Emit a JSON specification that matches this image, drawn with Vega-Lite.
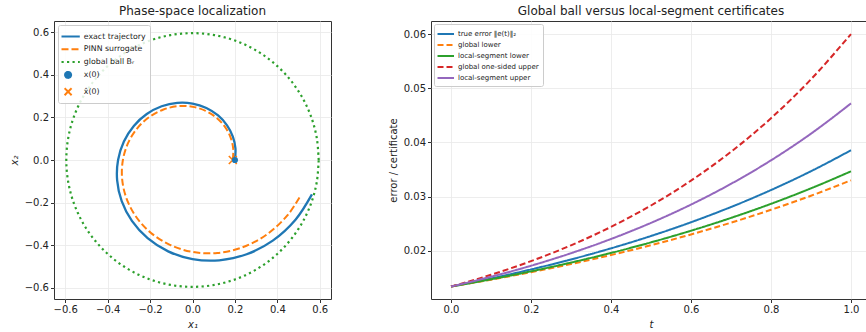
{
  "$schema": "https://vega.github.io/schema/vega-lite/v6.json",
  "padding": {"top": 4, "left": 8, "right": 0, "bottom": 0},
  "spacing": 55,
  "config": {
    "font": "DejaVu Sans",
    "view": {"stroke": "#333", "strokeWidth": 1},
    "axis": {"grid": true, "gridColor": "#e8e8e8", "gridWidth": 0.8, "domain": false, "tickColor": "#333", "tickSize": 3.5, "labelFontSize": 10, "labelColor": "#222", "titleFontSize": 10, "titleFontWeight": "normal", "titleColor": "#222", "labelPadding": 2, "titlePadding": 3, "labelFlush": false},
    "axisX": {"titlePadding": 5},
    "title": {"fontSize": 12, "fontWeight": "normal", "color": "#222", "offset": 3},
    "legend": {"title": null, "orient": "top-left", "offset": 4, "padding": 3.5, "strokeColor": "#cccccc", "fillColor": "rgba(255,255,255,0.85)", "cornerRadius": 2, "labelColor": "#222", "symbolStrokeWidth": 2}
  },
  "resolve": {
    "scale": {"x": "independent", "y": "independent", "color": "independent", "stroke": "independent", "fill": "independent", "shape": "independent", "strokeDash": "independent"},
    "legend": {"color": "independent", "stroke": "independent", "fill": "independent", "shape": "independent", "strokeDash": "independent"}
  },
  "hconcat": [
    {
      "width": 277,
      "height": 278,
      "title": "Phase-space localization",
      "encoding": {
        "x": {"field": "x", "type": "quantitative", "scale": {"domain": [-0.653, 0.653], "nice": false, "zero": false}, "axis": {"values": [-0.6, -0.4, -0.2, 0, 0.2, 0.4, 0.6], "format": ".1f", "title": "x₁", "titleFontStyle": "italic"}},
        "y": {"field": "y", "type": "quantitative", "scale": {"domain": [-0.652, 0.652], "nice": false, "zero": false}, "axis": {"values": [-0.6, -0.4, -0.2, 0, 0.2, 0.4, 0.6], "format": ".1f", "title": "x₂", "titleFontStyle": "italic", "titlePadding": 5}}
      },
      "layer": [
        {
          "data": {"values": [
            {"i": 0, "x": 0.2, "y": 0}, {"i": 1, "x": 0.20246, "y": 0.05425}, {"i": 2, "x": 0.19022, "y": 0.10983}, {"i": 3, "x": 0.16277, "y": 0.16277}, {"i": 4, "x": 0.12062, "y": 0.20891}, {"i": 5, "x": 0.06543, "y": 0.24419}, {"i": 6, "x": 0, "y": 0.26493}, {"i": 7, "x": -0.07186, "y": 0.26818}, {"i": 8, "x": -0.14548, "y": 0.25198}, {"i": 9, "x": -0.21561, "y": 0.21561}, {"i": 10, "x": -0.27674, "y": 0.15978}, {"i": 11, "x": -0.32347, "y": 0.08667}, {"i": 12, "x": -0.35094, "y": 0}, {"i": 13, "x": -0.35527, "y": -0.0952}, {"i": 14, "x": -0.33381, "y": -0.19273}, {"i": 15, "x": -0.28563, "y": -0.28563}, {"i": 16, "x": -0.21166, "y": -0.36661}, {"i": 17, "x": -0.11482, "y": -0.42851}, {"i": 18, "x": 0, "y": -0.46488}, {"i": 19, "x": 0.12609, "y": -0.47059}, {"i": 20, "x": 0.25529, "y": -0.44217}, {"i": 21, "x": 0.37835, "y": -0.37835}, {"i": 22, "x": 0.48559, "y": -0.28036}, {"i": 23, "x": 0.56312, "y": -0.16148}
          ]},
          "mark": {"type": "line", "interpolate": "catmull-rom", "strokeWidth": 2.3, "color": "#1f77b4"},
          "encoding": {"order": {"field": "i", "type": "quantitative"}}
        },
        {
          "data": {"values": [
            {"i": 0, "x": 0.19, "y": 0}, {"i": 1, "x": 0.19208, "y": 0.05147}, {"i": 2, "x": 0.18024, "y": 0.10406}, {"i": 3, "x": 0.15402, "y": 0.15402}, {"i": 4, "x": 0.11399, "y": 0.19744}, {"i": 5, "x": 0.06175, "y": 0.23047}, {"i": 6, "x": 0, "y": 0.24972}, {"i": 7, "x": -0.06765, "y": 0.25245}, {"i": 8, "x": -0.13677, "y": 0.23689}, {"i": 9, "x": -0.20244, "y": 0.20244}, {"i": 10, "x": -0.25949, "y": 0.14982}, {"i": 11, "x": -0.30291, "y": 0.08116}, {"i": 12, "x": -0.32821, "y": 0}, {"i": 13, "x": -0.3318, "y": -0.0889}, {"i": 14, "x": -0.31135, "y": -0.17976}, {"i": 15, "x": -0.26606, "y": -0.26606}, {"i": 16, "x": -0.1969, "y": -0.34104}, {"i": 17, "x": -0.10668, "y": -0.39811}, {"i": 18, "x": 0, "y": -0.43136}, {"i": 19, "x": 0.11685, "y": -0.43609}, {"i": 20, "x": 0.23626, "y": -0.40921}, {"i": 21, "x": 0.34969, "y": -0.34969}, {"i": 22, "x": 0.44826, "y": -0.2588}, {"i": 23, "x": 0.50964, "y": -0.16757}
          ]},
          "mark": {"type": "line", "interpolate": "catmull-rom", "strokeWidth": 2, "color": "#ff7f0e", "strokeDash": [7, 3]},
          "encoding": {"order": {"field": "i", "type": "quantitative"}}
        },
        {
          "data": {"values": [
            {"i": 0, "x": 0.595, "y": 0}, {"i": 1, "x": 0.58596, "y": 0.10329}, {"i": 2, "x": 0.55912, "y": 0.20349}, {"i": 3, "x": 0.51527, "y": 0.2975}, {"i": 4, "x": 0.45577, "y": 0.38247}, {"i": 5, "x": 0.38247, "y": 0.45577}, {"i": 6, "x": 0.2975, "y": 0.51527}, {"i": 7, "x": 0.20349, "y": 0.55912}, {"i": 8, "x": 0.10329, "y": 0.58596}, {"i": 9, "x": 0, "y": 0.595}, {"i": 10, "x": -0.10329, "y": 0.58596}, {"i": 11, "x": -0.20349, "y": 0.55912}, {"i": 12, "x": -0.2975, "y": 0.51527}, {"i": 13, "x": -0.38247, "y": 0.45577}, {"i": 14, "x": -0.45577, "y": 0.38247}, {"i": 15, "x": -0.51527, "y": 0.2975}, {"i": 16, "x": -0.55912, "y": 0.20349}, {"i": 17, "x": -0.58596, "y": 0.10329}, {"i": 18, "x": -0.595, "y": 0}, {"i": 19, "x": -0.58596, "y": -0.10329}, {"i": 20, "x": -0.55912, "y": -0.20349}, {"i": 21, "x": -0.51527, "y": -0.2975}, {"i": 22, "x": -0.45577, "y": -0.38247}, {"i": 23, "x": -0.38247, "y": -0.45577}, {"i": 24, "x": -0.2975, "y": -0.51527}, {"i": 25, "x": -0.20349, "y": -0.55912}, {"i": 26, "x": -0.10329, "y": -0.58596}, {"i": 27, "x": 0, "y": -0.595}, {"i": 28, "x": 0.10329, "y": -0.58596}, {"i": 29, "x": 0.20349, "y": -0.55912}, {"i": 30, "x": 0.2975, "y": -0.51527}, {"i": 31, "x": 0.38247, "y": -0.45577}, {"i": 32, "x": 0.45577, "y": -0.38247}, {"i": 33, "x": 0.51527, "y": -0.2975}, {"i": 34, "x": 0.55912, "y": -0.20349}, {"i": 35, "x": 0.58596, "y": -0.10329}, {"i": 36, "x": 0.595, "y": 0}
          ]},
          "mark": {"type": "line", "interpolate": "catmull-rom", "strokeWidth": 2.2, "color": "#2ca02c", "strokeDash": [2.2, 3.3]},
          "encoding": {"order": {"field": "i", "type": "quantitative"}}
        },
        {
          "data": {"values": [{"label": "x̂(0)", "x": 0.19, "y": 0}]},
          "mark": {"type": "point", "filled": false, "shape": "M-1,-1L1,1M-1,1L1,-1", "size": 64, "strokeWidth": 1.6, "color": "#ff7f0e", "opacity": 1},
          "encoding": {}
        },
        {
          "data": {"values": [{"label": "x(0)", "x": 0.2, "y": 0}]},
          "mark": {"type": "point", "filled": true, "shape": "circle", "size": 38, "color": "#1f77b4", "opacity": 1},
          "encoding": {}
        },
        {
          "data": {"values": []},
          "mark": {"type": "point", "filled": false, "size": 196, "strokeWidth": 2, "opacity": 1},
          "encoding": {
            "stroke": {"field": "series", "type": "nominal",
              "scale": {"domain": ["exact trajectory", "PINN surrogate", "global ball Bᵣ", "x(0)", "x̂(0)"], "range": ["#1f77b4", "#ff7f0e", "#2ca02c", "#1f77b4", "#ff7f0e"]},
              "legend": {"symbolSize": 196, "labelFontSize": 7.8, "rowPadding": 0.8, "labelOffset": 6.3, "symbolStrokeWidth": 2}},
            "fill": {"field": "series", "type": "nominal",
              "scale": {"domain": ["exact trajectory", "PINN surrogate", "global ball Bᵣ", "x(0)", "x̂(0)"], "range": ["transparent", "transparent", "transparent", "#1f77b4", "transparent"]},
              "legend": {"symbolSize": 196, "labelFontSize": 7.8, "rowPadding": 0.8, "labelOffset": 6.3, "symbolStrokeWidth": 2}},
            "shape": {"field": "series", "type": "nominal",
              "scale": {"domain": ["exact trajectory", "PINN surrogate", "global ball Bᵣ", "x(0)", "x̂(0)"], "range": ["M-1.143,0L1.471,0", "M-1.143,0L1.471,0", "M-1.143,0L1.471,0", "M0.23,0A0.43,0.43 0 1,1 -0.63,0A0.43,0.43 0 1,1 0.23,0Z", "M-0.7,-0.5L0.3,0.5M-0.7,0.5L0.3,-0.5"]},
              "legend": {"symbolSize": 196, "labelFontSize": 7.8, "rowPadding": 0.8, "labelOffset": 6.3, "symbolStrokeWidth": 2}},
            "strokeDash": {"field": "series", "type": "nominal",
              "scale": {"domain": ["exact trajectory", "PINN surrogate", "global ball Bᵣ", "x(0)", "x̂(0)"], "range": [[1, 0], [7, 3], [2.2, 3.3], [1, 0], [1, 0]]},
              "legend": {"symbolSize": 196, "labelFontSize": 7.8, "rowPadding": 0.8, "labelOffset": 6.3, "symbolStrokeWidth": 2}}
          }
        }
      ]
    },
    {
      "width": 440,
      "height": 278,
      "title": "Global ball versus local-segment certificates",
      "data": {"values": [
        {"c": "true error ‖e(t)‖₂", "t": 0, "v": 0.0134}, {"c": "true error ‖e(t)‖₂", "t": 0.1, "v": 0.014893}, {"c": "true error ‖e(t)‖₂", "t": 0.2, "v": 0.016553}, {"c": "true error ‖e(t)‖₂", "t": 0.3, "v": 0.018398}, {"c": "true error ‖e(t)‖₂", "t": 0.4, "v": 0.020449}, {"c": "true error ‖e(t)‖₂", "t": 0.5, "v": 0.022728}, {"c": "true error ‖e(t)‖₂", "t": 0.6, "v": 0.025261}, {"c": "true error ‖e(t)‖₂", "t": 0.7, "v": 0.028076}, {"c": "true error ‖e(t)‖₂", "t": 0.8, "v": 0.031205}, {"c": "true error ‖e(t)‖₂", "t": 0.9, "v": 0.034683}, {"c": "true error ‖e(t)‖₂", "t": 1.0, "v": 0.03855},
        {"c": "global lower", "t": 0, "v": 0.0134}, {"c": "global lower", "t": 0.1, "v": 0.014664}, {"c": "global lower", "t": 0.2, "v": 0.016047}, {"c": "global lower", "t": 0.3, "v": 0.01756}, {"c": "global lower", "t": 0.4, "v": 0.019217}, {"c": "global lower", "t": 0.5, "v": 0.021029}, {"c": "global lower", "t": 0.6, "v": 0.023013}, {"c": "global lower", "t": 0.7, "v": 0.025182}, {"c": "global lower", "t": 0.8, "v": 0.027557}, {"c": "global lower", "t": 0.9, "v": 0.030156}, {"c": "global lower", "t": 1.0, "v": 0.033002},
        {"c": "local-segment lower", "t": 0, "v": 0.0134}, {"c": "local-segment lower", "t": 0.1, "v": 0.014736}, {"c": "local-segment lower", "t": 0.2, "v": 0.016205}, {"c": "local-segment lower", "t": 0.3, "v": 0.017821}, {"c": "local-segment lower", "t": 0.4, "v": 0.019598}, {"c": "local-segment lower", "t": 0.5, "v": 0.021552}, {"c": "local-segment lower", "t": 0.6, "v": 0.023701}, {"c": "local-segment lower", "t": 0.7, "v": 0.026064}, {"c": "local-segment lower", "t": 0.8, "v": 0.028664}, {"c": "local-segment lower", "t": 0.9, "v": 0.031522}, {"c": "local-segment lower", "t": 1.0, "v": 0.034663},
        {"c": "global one-sided upper", "t": 0, "v": 0.0134}, {"c": "global one-sided upper", "t": 0.1, "v": 0.015567}, {"c": "global one-sided upper", "t": 0.2, "v": 0.018085}, {"c": "global one-sided upper", "t": 0.3, "v": 0.021009}, {"c": "global one-sided upper", "t": 0.4, "v": 0.024407}, {"c": "global one-sided upper", "t": 0.5, "v": 0.028354}, {"c": "global one-sided upper", "t": 0.6, "v": 0.032939}, {"c": "global one-sided upper", "t": 0.7, "v": 0.038266}, {"c": "global one-sided upper", "t": 0.8, "v": 0.044455}, {"c": "global one-sided upper", "t": 0.9, "v": 0.051644}, {"c": "global one-sided upper", "t": 1.0, "v": 0.059996},
        {"c": "local-segment upper", "t": 0, "v": 0.0134}, {"c": "local-segment upper", "t": 0.1, "v": 0.015198}, {"c": "local-segment upper", "t": 0.2, "v": 0.017237}, {"c": "local-segment upper", "t": 0.3, "v": 0.019549}, {"c": "local-segment upper", "t": 0.4, "v": 0.022173}, {"c": "local-segment upper", "t": 0.5, "v": 0.025148}, {"c": "local-segment upper", "t": 0.6, "v": 0.028522}, {"c": "local-segment upper", "t": 0.7, "v": 0.032349}, {"c": "local-segment upper", "t": 0.8, "v": 0.036689}, {"c": "local-segment upper", "t": 0.9, "v": 0.041611}, {"c": "local-segment upper", "t": 1.0, "v": 0.047195}
      ]},
      "mark": {"type": "line", "interpolate": "monotone", "strokeWidth": 2},
      "encoding": {
        "x": {"field": "t", "type": "quantitative", "scale": {"domain": [-0.05, 1.05], "nice": false, "zero": false}, "axis": {"values": [0, 0.2, 0.4, 0.6, 0.8, 1.0], "format": ".1f", "title": "t", "titleFontStyle": "italic"}},
        "y": {"field": "v", "type": "quantitative", "scale": {"domain": [0.0111, 0.0624], "nice": false, "zero": false}, "axis": {"values": [0.02, 0.03, 0.04, 0.05, 0.06], "format": ".2f", "title": "error / certificate", "titlePadding": 5}},
        "color": {"field": "c", "type": "nominal",
          "scale": {"domain": ["true error ‖e(t)‖₂", "global lower", "local-segment lower", "global one-sided upper", "local-segment upper"], "range": ["#1f77b4", "#ff7f0e", "#2ca02c", "#d62728", "#9467bd"]},
          "legend": {"symbolType": "M-1.18,0L1.82,0", "symbolSize": 121, "labelFontSize": 7, "rowPadding": 0, "labelOffset": 7.5, "offset": 3}},
        "strokeDash": {"field": "c", "type": "nominal",
          "scale": {"domain": ["true error ‖e(t)‖₂", "global lower", "local-segment lower", "global one-sided upper", "local-segment upper"], "range": [[1, 0], [6, 3], [1, 0], [6, 3], [1, 0]]},
          "legend": {"symbolType": "M-1.18,0L1.82,0", "symbolSize": 121, "labelFontSize": 7, "rowPadding": 0, "labelOffset": 7.5, "offset": 3}}
      }
    }
  ]
}
